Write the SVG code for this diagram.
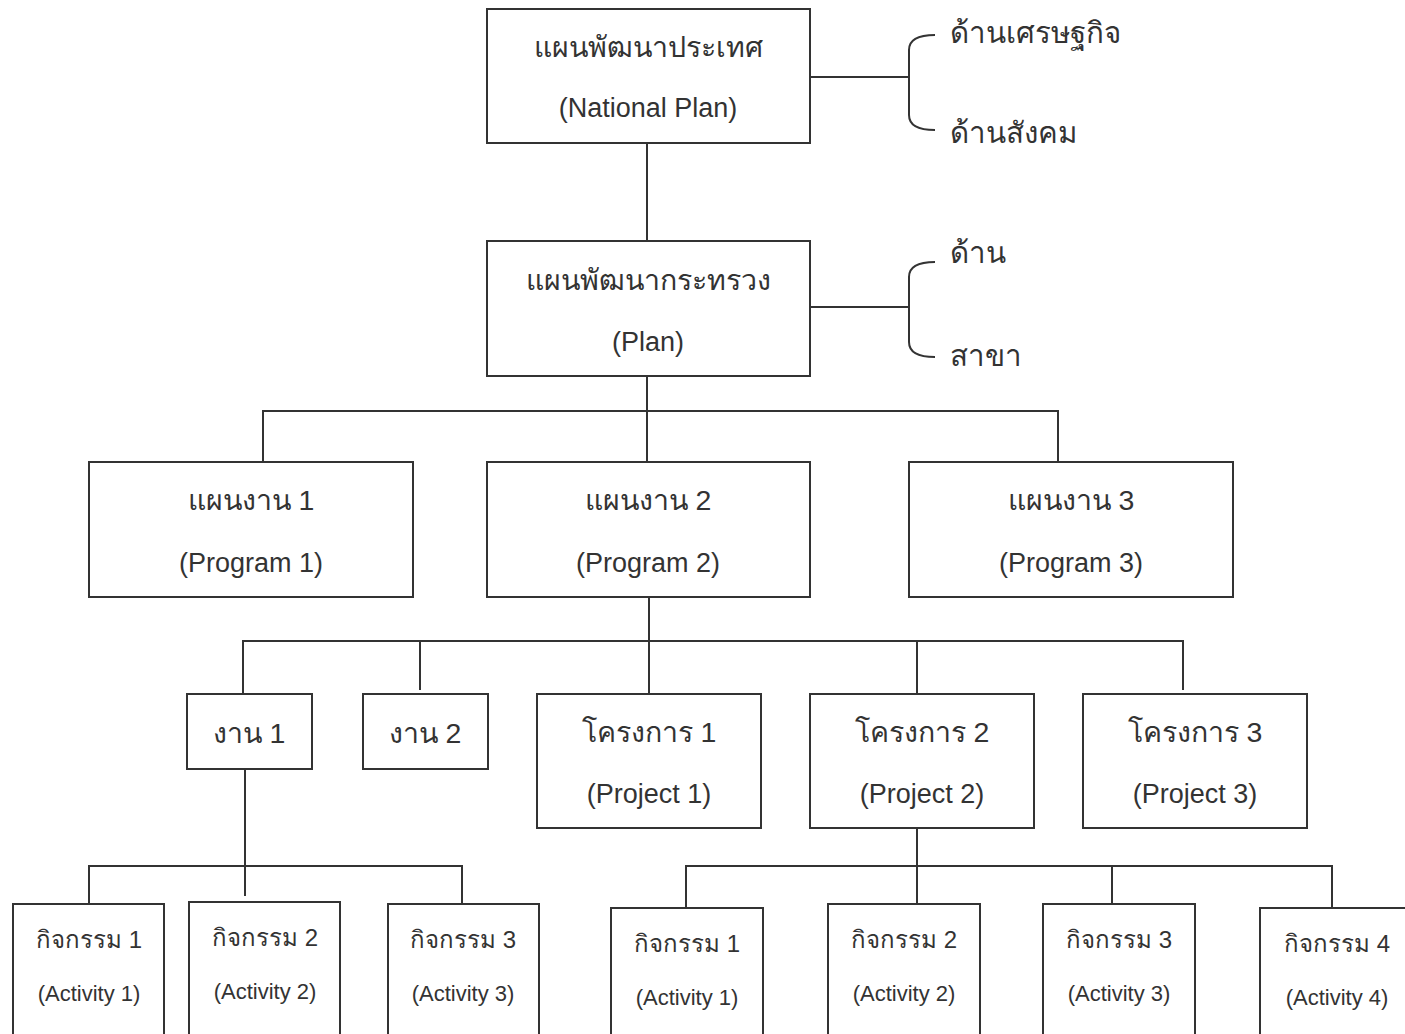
<svg xmlns="http://www.w3.org/2000/svg" width="1405" height="1034" viewBox="0 0 1405 1034">
<style>
.box{fill:#fff;stroke:#333;stroke-width:2}
.ln{fill:none;stroke:#333;stroke-width:2}
text{font-family:"Liberation Sans","Noto Sans",sans-serif;fill:#333;text-anchor:middle;dominant-baseline:central}
.t{font-size:27px}
.th{font-size:28.5px}
.s{font-size:22px}
.sth{font-size:24px}
.side{font-size:29.5px;text-anchor:start}
</style>
<rect width="1405" height="1034" fill="#fff"/>
<g id="connectors">
<line class="ln" x1="647" y1="143" x2="647" y2="241"/>
<line class="ln" x1="810" y1="77" x2="909" y2="77"/>
<path class="ln" d="M935,35 Q909,35 909,50 L909,115 Q909,130 935,130"/>
<line class="ln" x1="810" y1="307" x2="909" y2="307"/>
<path class="ln" d="M935,262 Q909,262 909,277 L909,342 Q909,357 935,357"/>
<line class="ln" x1="647" y1="376" x2="647" y2="462"/>
<polyline class="ln" points="263,462 263,411 1058,411 1058,462"/>
<line class="ln" x1="649" y1="597" x2="649" y2="694"/>
<polyline class="ln" points="243,694 243,641 1183,641 1183,690"/>
<line class="ln" x1="420" y1="641" x2="420" y2="690"/>
<line class="ln" x1="917" y1="641" x2="917" y2="694"/>
<line class="ln" x1="245" y1="769" x2="245" y2="896"/>
<polyline class="ln" points="89,904 89,866 462,866 462,904"/>
<line class="ln" x1="917" y1="828" x2="917" y2="904"/>
<polyline class="ln" points="686,908 686,866 1332,866 1332,908"/>
<line class="ln" x1="1112" y1="866" x2="1112" y2="904"/>
</g>
<g id="national">
<rect class="box" x="487" y="9" width="323" height="134"/>
<text class="th" x="648" y="47">แผนพัฒนาประเทศ</text>
<text class="t" x="648" y="108">(National Plan)</text>
</g>
<g id="national-sides">
<text class="side" x="950" y="32">ด้านเศรษฐกิจ</text>
<text class="side" x="950" y="132">ด้านสังคม</text>
</g>
<g id="ministry">
<rect class="box" x="487" y="241" width="323" height="135"/>
<text class="th" x="648" y="280">แผนพัฒนากระทรวง</text>
<text class="t" x="648" y="342">(Plan)</text>
</g>
<g id="ministry-sides">
<text class="side" x="950" y="252">ด้าน</text>
<text class="side" x="950" y="355">สาขา</text>
</g>
<g id="program1">
<rect class="box" x="89" y="462" width="324" height="135"/>
<text class="th" x="251" y="500">แผนงาน 1</text>
<text class="t" x="251" y="563">(Program 1)</text>
</g>
<g id="program2">
<rect class="box" x="487" y="462" width="323" height="135"/>
<text class="th" x="648" y="500">แผนงาน 2</text>
<text class="t" x="648" y="563">(Program 2)</text>
</g>
<g id="program3">
<rect class="box" x="909" y="462" width="324" height="135"/>
<text class="th" x="1071" y="500">แผนงาน 3</text>
<text class="t" x="1071" y="563">(Program 3)</text>
</g>
<g id="work1">
<rect class="box" x="187" y="694" width="125" height="75"/>
<text class="th" x="249" y="733">งาน 1</text>
</g>
<g id="work2">
<rect class="box" x="363" y="694" width="125" height="75"/>
<text class="th" x="425" y="733">งาน 2</text>
</g>
<g id="project1">
<rect class="box" x="537" y="694" width="224" height="134"/>
<text class="th" x="649" y="732">โครงการ 1</text>
<text class="t" x="649" y="794">(Project 1)</text>
</g>
<g id="project2">
<rect class="box" x="810" y="694" width="224" height="134"/>
<text class="th" x="922" y="732">โครงการ 2</text>
<text class="t" x="922" y="794">(Project 2)</text>
</g>
<g id="project3">
<rect class="box" x="1083" y="694" width="224" height="134"/>
<text class="th" x="1195" y="732">โครงการ 3</text>
<text class="t" x="1195" y="794">(Project 3)</text>
</g>
<g id="w1-activity1">
<rect class="box" x="13" y="904" width="151" height="140"/>
<text class="sth" x="89" y="939">กิจกรรม 1</text>
<text class="s" x="89" y="993">(Activity 1)</text>
</g>
<g id="w1-activity2">
<rect class="box" x="189" y="902" width="151" height="140"/>
<text class="sth" x="265" y="937">กิจกรรม 2</text>
<text class="s" x="265" y="991">(Activity 2)</text>
</g>
<g id="w1-activity3">
<rect class="box" x="388" y="904" width="151" height="140"/>
<text class="sth" x="463" y="939">กิจกรรม 3</text>
<text class="s" x="463" y="993">(Activity 3)</text>
</g>
<g id="p2-activity1">
<rect class="box" x="611" y="908" width="152" height="140"/>
<text class="sth" x="687" y="943">กิจกรรม 1</text>
<text class="s" x="687" y="997">(Activity 1)</text>
</g>
<g id="p2-activity2">
<rect class="box" x="828" y="904" width="152" height="140"/>
<text class="sth" x="904" y="939">กิจกรรม 2</text>
<text class="s" x="904" y="993">(Activity 2)</text>
</g>
<g id="p2-activity3">
<rect class="box" x="1043" y="904" width="152" height="140"/>
<text class="sth" x="1119" y="939">กิจกรรม 3</text>
<text class="s" x="1119" y="993">(Activity 3)</text>
</g>
<g id="p2-activity4">
<rect class="box" x="1260" y="908" width="152" height="140"/>
<text class="sth" x="1337" y="943">กิจกรรม 4</text>
<text class="s" x="1337" y="997">(Activity 4)</text>
</g>
</svg>
